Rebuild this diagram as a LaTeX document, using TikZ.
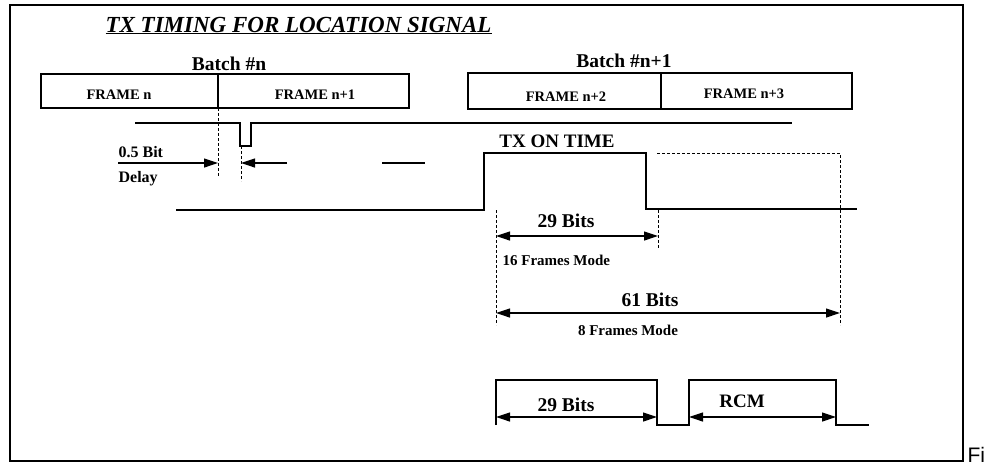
\documentclass[tikz,border=0pt]{standalone}
\usepackage{fontspec}
\setmainfont{Liberation Serif}
\newfontfamily\arialfont{Liberation Sans}
\usetikzlibrary{arrows.meta}
\begin{document}
\begin{tikzpicture}[x=1pt,y=-1pt,line width=1.2pt,
  txt/.style={inner sep=0pt,anchor=base,font=\bfseries\fontsize{#1}{#1}\selectfont},
  txtl/.style={inner sep=0pt,anchor=base west,font=\bfseries\fontsize{#1}{#1}\selectfont},
  dsh/.style={line width=1pt,dash pattern=on 3pt off 2pt},
  tipA/.style={-{Triangle[length=14pt,width=9pt]}},
  dim/.style={{Triangle[length=14pt,width=9pt]}-{Triangle[length=14pt,width=9pt]}},
  box/.style={draw,line width=1.2pt}]
\useasboundingbox (0,0) rectangle (991,464);
% outer frame
\draw[line width=1.3pt] (10,5) rectangle (963,461);
\node[inner sep=0pt,anchor=base west,font=\arialfont\fontsize{21}{21}\selectfont] (fi) at (967,462) {Fi};
% title
\node[txtl=23,font=\bfseries\itshape\fontsize{23}{23}\selectfont] (title) at (105,32) {\underline{TX TIMING FOR LOCATION SIGNAL}};
% batches
\node[txt=19.5] (bn) at (229,70) {Batch \#n};
\node[txt=19.5] (bn1) at (624,67) {Batch \#n+1};
\draw[box] (41,74) rectangle (409,108);
\draw (218,74) -- (218,108);
\node[txt=14.5] (fn) at (119,99) {FRAME n};
\node[txt=14.5] (fn1) at (315,99) {FRAME n+1};
\draw[box] (468,73) rectangle (852,109);
\draw (661,73) -- (661,109);
\node[txt=14.5] (fn2) at (566,101.5) {FRAME n+2};
\node[txt=14.5] (fn3) at (744,98.5) {FRAME n+3};
% upper signal with 0.5 bit pulse
\draw (135,123) -- (240,123) -- (240,146) -- (251,146) -- (251,123) -- (792,123);
\draw[dsh] (218,108) -- (218,176);
\draw[dsh] (241,146) -- (241,181);
\node[txtl=16] (half) at (118,157) {0.5 Bit};
\node[txtl=16] (delay) at (118,182) {Delay};
\coordinate (a1s) at (118,163);
\coordinate (a1e) at (218,163);
\coordinate (a2s) at (287,163);
\coordinate (a2e) at (241,163);
\draw[tipA] (a1s) -- (a1e);
\draw[tipA] (a2s) -- (a2e);
\draw (382,163) -- (425,163);
% TX on time signal
\node[txt=19] (txon) at (557,147) {TX ON TIME};
\draw (176,210) -- (484,210) -- (484,153) -- (646,153) -- (646,209) -- (857,209);
\draw[dsh] (657,153) -- (840,153) -- (840,325);
\draw[dsh] (496,210) -- (496,325);
\draw[dsh] (658,210) -- (658,248);
% 29 bits
\coordinate (b29s) at (496,236);
\coordinate (b29e) at (658,236);
\draw[dim] (b29s) -- (b29e);
\node[txt=19.5] (t29) at (566,227) {29 Bits};
\node[txtl=15] (m16) at (502,265) {16 Frames Mode};
% 61 bits
\coordinate (b61s) at (496,313);
\coordinate (b61e) at (840,313);
\draw[dim] (b61s) -- (b61e);
\node[txt=19.5] (t61) at (650,306) {61 Bits};
\node[txt=15] (m8) at (628,335) {8 Frames Mode};
% bottom pulses
\draw (496,425) -- (496,380) -- (657,380) -- (657,425) -- (689,425) -- (689,380) -- (836,380) -- (836,425) -- (869,425);
\coordinate (c1s) at (496,417);
\coordinate (c1e) at (657,417);
\coordinate (c2s) at (689,417);
\coordinate (c2e) at (836,417);
\draw[dim] (c1s) -- (c1e);
\draw[dim] (c2s) -- (c2e);
\node[txt=19.5] (t29b) at (566,411) {29 Bits};
\node[txt=19] (rcm) at (742,407) {RCM};
\end{tikzpicture}
\end{document}
